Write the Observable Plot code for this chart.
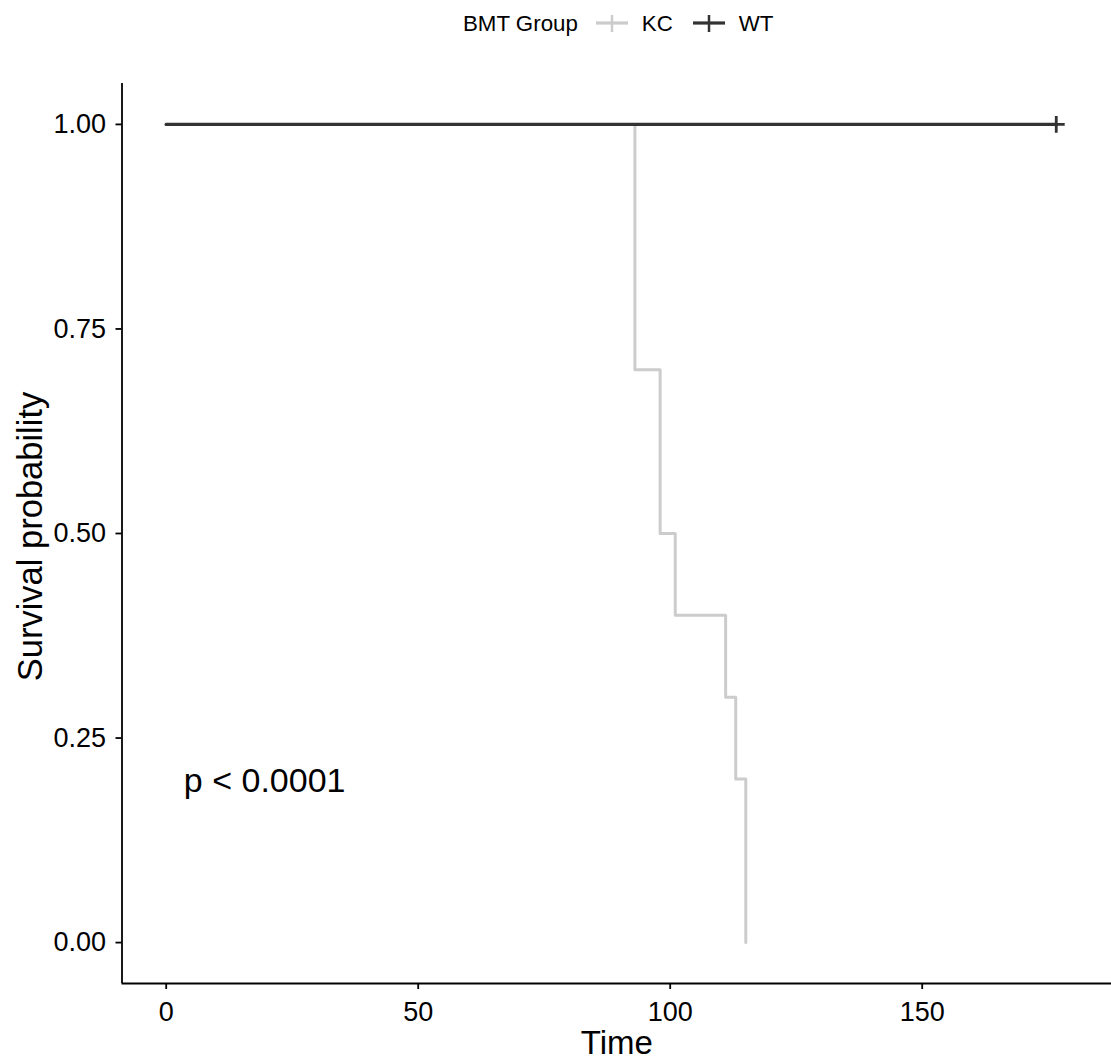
<!DOCTYPE html>
<html>
<head>
<meta charset="utf-8">
<script src="https://cdn.jsdelivr.net/npm/d3@7"></script>
<script src="https://cdn.jsdelivr.net/npm/@observablehq/plot@0.6"></script>
<style>
  body { margin: 0; background: #fff; font-family: "Liberation Sans", Arial, sans-serif; }
  #legend { position: relative; width: 1111px; height: 47px; }
  #legend .lg { position: absolute; left: 463px; top: 0; height: 47px; display: flex; align-items: center; font-size: 22.3px; color: #000; }
  #legend svg { display: block; }
</style>
</head>
<body>
<div id="legend"><div class="lg"></div></div>
<div id="chart"></div>
<script>
// ---- data ----
const legendTitle = "BMT Group";
const groups = ["KC", "WT"];
const groupColors = ["#cccccc", "#333333"];

const kcTime = [0, 93, 98, 101, 111, 113, 115];
const kcSurv = [1, 0.7, 0.5, 0.4, 0.3, 0.2, 0];

const wtTime = [0, 176.6];
const wtSurv = [1, 1];
const wtCensorTime = [176.6];
const wtCensorSurv = [1];

const xTicks = [0, 50, 100, 150];
const yTicks = [0, 0.25, 0.5, 0.75, 1];
const yTickLabels = ["0.00", "0.25", "0.50", "0.75", "1.00"];

const xTitle = "Time";
const yTitle = "Survival probability";
const pvalLabel = "p < 0.0001";
const pvalAt = {time: 3.5, surv: 0.2};

// ---- build rows ----
const kcRows = kcTime.map((t, i) => ({time: t, surv: kcSurv[i], group: "KC"}));
const wtRows = wtTime.map((t, i) => ({time: t, surv: wtSurv[i], group: "WT"}));
const wtCensor = wtCensorTime.map((t, i) => ({time: t, surv: wtCensorSurv[i], group: "WT"}));

const xDomain = [-8.77, 187.56];
const yDomain = [-0.05, 1.05];
const FONT = "'Liberation Sans', Arial, sans-serif";

// ---- legend (HTML above the SVG) ----
const lg = document.querySelector("#legend .lg");
const t0 = document.createElement("span");
t0.textContent = legendTitle;
t0.style.marginRight = "18px";
lg.appendChild(t0);
const gaps = [20, 0];
groups.forEach((g, i) => {
  const c = groupColors[i];
  const ns = "http://www.w3.org/2000/svg";
  const s = document.createElementNS(ns, "svg");
  s.setAttribute("width", 32); s.setAttribute("height", 47);
  s.style.marginRight = "14px";
  const l1 = document.createElementNS(ns, "line");
  l1.setAttribute("x1", 0); l1.setAttribute("x2", 32); l1.setAttribute("y1", 23); l1.setAttribute("y2", 23);
  l1.setAttribute("stroke", c); l1.setAttribute("stroke-width", 3.2);
  const l2 = document.createElementNS(ns, "line");
  l2.setAttribute("x1", 16); l2.setAttribute("x2", 16); l2.setAttribute("y1", 15); l2.setAttribute("y2", 32);
  l2.setAttribute("stroke", c); l2.setAttribute("stroke-width", 2.5);
  s.appendChild(l1); s.appendChild(l2);
  lg.appendChild(s);
  const sp = document.createElement("span");
  sp.textContent = g;
  sp.style.marginRight = gaps[i] + "px";
  lg.appendChild(sp);
});

// ---- plot ----
const chart = Plot.plot({
  width: 1111,
  height: 1014,
  marginLeft: 121.5,
  marginRight: 0,
  marginTop: 36,
  marginBottom: 78,
  style: {fontFamily: FONT, background: "#fff", overflow: "visible"},
  x: {domain: xDomain},
  y: {domain: yDomain},
  color: {domain: groups, range: groupColors},
  marks: [
    Plot.line(kcRows, {x: "time", y: "surv", stroke: "group", curve: "step-after", strokeWidth: 3}),
    Plot.line(wtRows, {x: "time", y: "surv", stroke: "group", curve: "step-after", strokeWidth: 3.3}),
    Plot.dot(wtCensor, {x: "time", y: "surv", stroke: "group", symbol: "plus", r: 5.5, strokeWidth: 2.8}),
    Plot.ruleX([xDomain[0]], {stroke: "#000", strokeWidth: 1.8}),
    Plot.ruleY([yDomain[0]], {stroke: "#000", strokeWidth: 1.8}),
    Plot.axisX(xTicks, {tickSize: 6, tickPadding: 12, fontSize: 27, color: "#000", strokeWidth: 1.8, label: null}),
    Plot.axisY(yTicks, {tickSize: 6, tickPadding: 10, fontSize: 27, color: "#000", strokeWidth: 1.8, label: null,
      tickFormat: d => yTickLabels[yTicks.indexOf(d)]}),
    Plot.text([pvalAt], {x: "time", y: "surv", text: () => pvalLabel, textAnchor: "start", lineAnchor: "middle", fontSize: 34, fill: "#000", dy: 2}),
    Plot.text([xTitle], {frameAnchor: "bottom", textAnchor: "middle", lineAnchor: "top", dy: 47, fontSize: 33, fill: "#000"}),
    Plot.text([yTitle], {frameAnchor: "left", rotate: -90, textAnchor: "middle", lineAnchor: "top", dx: -105, dy: 3, fontSize: 34.5, fill: "#000"})
  ]
});
document.getElementById("chart").appendChild(chart);
</script>
</body>
</html>
